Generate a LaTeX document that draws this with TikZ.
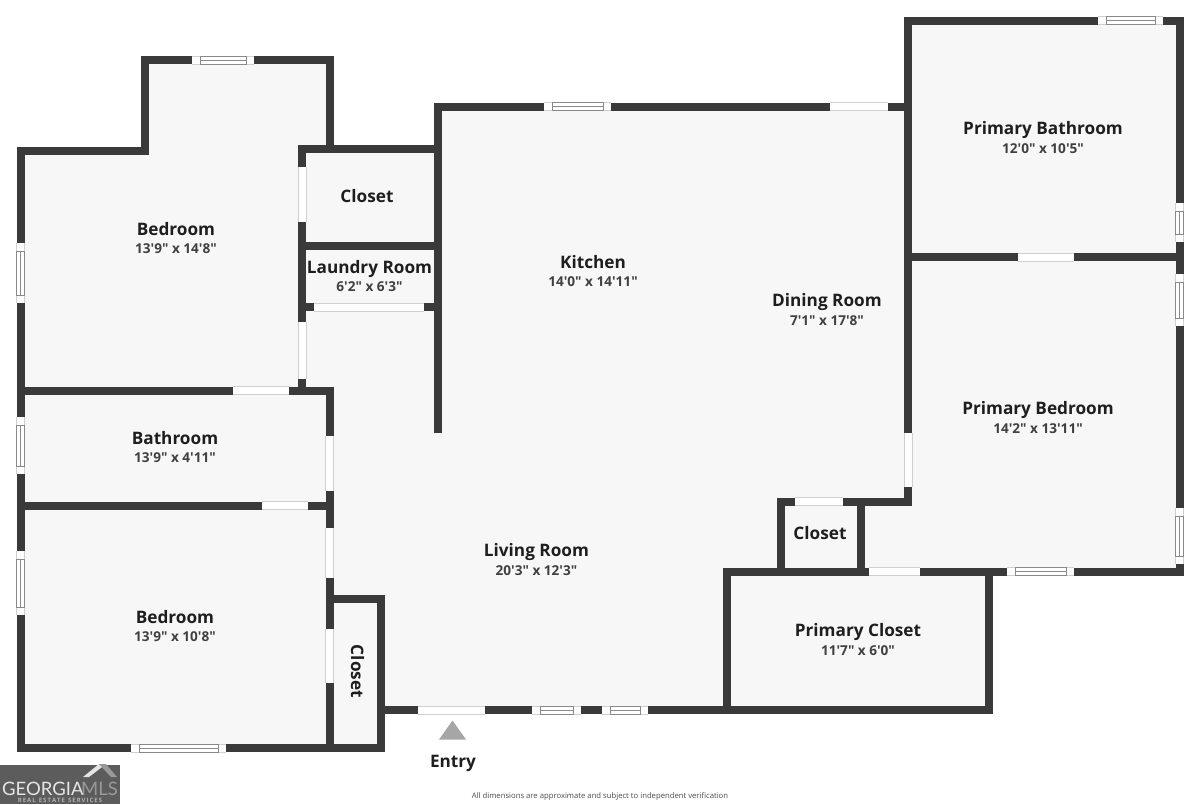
\documentclass[tikz,border=0pt]{standalone}
\usepackage{fontspec}
\newfontfamily\roomfont{Open Sans}
\newfontfamily\logofont{Lato}
\usepackage{xcolor}
\definecolor{wallgray}{HTML}{3A3A3A}
\definecolor{floorgray}{HTML}{F7F7F7}
\definecolor{edgegray}{HTML}{CFCFCF}
\definecolor{sashgray}{HTML}{8A8A8A}
\definecolor{logogray}{HTML}{5C5C5C}
\definecolor{inkgray}{HTML}{1E1E1E}
\newcommand{\hgap}[3]{\fill[white] (#1,#3-4) rectangle (#2,#3+4); \draw[edgegray,line width=.7pt] (#1,#3-4) -- (#2,#3-4) (#1,#3+4) -- (#2,#3+4);}
\newcommand{\vgap}[3]{\fill[white] (#3-4,#1) rectangle (#3+4,#2); \draw[edgegray,line width=.7pt] (#3-4,#1) -- (#3-4,#2) (#3+4,#1) -- (#3+4,#2);}
\newcommand{\hwin}[3]{\hgap{#1}{#2}{#3} \draw[sashgray,line width=.6pt] (#1+8,#3-4) rectangle (#2-8,#3+4) (#1+8,#3) -- (#2-8,#3);}
\newcommand{\vwin}[3]{\vgap{#1}{#2}{#3} \draw[sashgray,line width=.6pt] (#3-4,#1+8) rectangle (#3+4,#2-8) (#3,#1+8) -- (#3,#2-8);}
\tikzset{
  wall/.style={wallgray,line width=8pt,line join=miter,line cap=butt},
  roomname/.style={font=\roomfont\bfseries\fontsize{17.2}{19}\selectfont,text=inkgray,inner sep=0pt,yshift=-1.5pt},
  roomsize/.style={font=\roomfont\bfseries\fontsize{13.6}{15}\selectfont,text=inkgray!85,inner sep=0pt,yshift=-1.5pt}
}
\begin{document}
\begin{tikzpicture}[x=1pt,y=-1pt]
  \useasboundingbox (0,0) rectangle (1200,804);
  % floor
  \fill[floorgray] (20,151) -- (145,151) -- (145,60) -- (330,60) -- (330,149) -- (437,149) -- (437,106) -- (908,106)
    -- (908,20) -- (1180,20) -- (1180,572) -- (989,572) -- (989,710) -- (381,710) -- (381,748) -- (20,748) -- cycle;
  % outer walls
  \draw[wall] (20.7,155) -- (20.7,151.3) -- (145,151.3) -- (145,60.2) -- (330,60.2) -- (330,149) -- (298,149) -- (437.5,149);
  \draw[wall] (437.5,433) -- (437.5,106.7) -- (908,106.7);
  \draw[wall] (908,501.5) -- (908,20.5) -- (1179.7,20.5) -- (1179.7,571.5) -- (727,571.5) -- (727,710) -- (989,710) -- (989,571.5);
  \draw[wall] (20.7,151) -- (20.7,748) -- (381,748) -- (381,599) -- (329.5,599);
  \draw[wall] (381,710) -- (727,710);
  % inner walls
  \draw[wall] (329.5,386.5) -- (329.5,748);
  \draw[wall] (20,390.7) -- (333.5,390.7);
  \draw[wall] (20,505.7) -- (329.5,505.7);
  \draw[wall] (302,145) -- (302,390.5);
  \draw[wall] (302,246) -- (437.5,246);
  \draw[wall] (302,307) -- (437.5,307);
  \draw[wall] (908,257.3) -- (1179.7,257.3);
  \draw[wall] (781,571.5) -- (781,501.5) -- (912,501.5);
  \draw[wall] (861,501.5) -- (861,571.5);
  % openings
  \foreach \a/\b/\c in {314/424/307, 233/289/390.7, 262/308/505.7, 830/888/106.7, 1018/1074/257.3, 795/843/501.5, 869/920/571.5, 418/485/710}
    {\hgap{\a}{\b}{\c}}
  \foreach \a/\b/\c in {167/222/302, 322/379/302, 436/491/329.5, 528/578/329.5, 629/683/329.5, 433/487/908}
    {\vgap{\a}{\b}{\c}}
  % windows
  \foreach \a/\b/\c in {192/254/60.2, 544/611/106.7, 1098/1163/20.5, 131/226/748, 532/581/710, 602/648/710, 1007/1074/571.5}
    {\hwin{\a}{\b}{\c}}
  \foreach \a/\b/\c in {243/303/20.7, 417/474/20.7, 551/615/20.7, 203/242/1179.7, 274/326/1179.7, 508/564/1179.7}
    {\vwin{\a}{\b}{\c}}
  % labels
  \node[roomname] (bedtop) at (176,228) {Bedroom};
  \node[roomsize] (bedtopsize) at (176,247) {13'9" x 14'8"};
  \node[roomname] (closettop) at (367,195) {Closet};
  \node[roomname] (laundry) at (369.5,267.5) {Laundry Room};
  \node[roomsize] (laundrysize) at (369.5,285) {6'2" x 6'3"};
  \node[roomname] (kitchen) at (593,261) {Kitchen};
  \node[roomsize] (kitchensize) at (593,280) {14'0" x 14'11"};
  \node[roomname] (dining) at (827,300.5) {Dining Room};
  \node[roomsize] (diningsize) at (827,319) {7'1" x 17'8"};
  \node[roomname] (bathprim) at (1043,128.5) {Primary Bathroom};
  \node[roomsize] (bathprimsize) at (1043,147) {12'0" x 10'5"};
  \node[roomname] (bedprim) at (1038,408.5) {Primary Bedroom};
  \node[roomsize] (bedprimsize) at (1038,427) {14'2" x 13'11"};
  \node[roomname] (bath) at (175,437) {Bathroom};
  \node[roomsize] (bathsize) at (175,456) {13'9" x 4'11"};
  \node[roomname] (bedlow) at (175,616) {Bedroom};
  \node[roomsize] (bedlowsize) at (175,635) {13'9" x 10'8"};
  \node[roomname] (living) at (536.5,550.5) {Living Room};
  \node[roomsize] (livingsize) at (536.5,569) {20'3" x 12'3"};
  \node[roomname] (closetmid) at (820,532) {Closet};
  \node[roomname] (closetprim) at (858,630.5) {Primary Closet};
  \node[roomsize] (closetprimsize) at (858,649) {11'7" x 6'0"};
  \node[roomname,rotate=-90,yshift=1.5pt] (closetlow) at (356,670) {Closet};
  % entry
  \fill[black!35] (439,739.5) -- (452.5,720.5) -- (466,739.5) -- cycle;
  \node[roomname] (entry) at (453,761.5) {Entry};
  \node[font=\roomfont\fontsize{7.7}{10}\selectfont,text=black!70,inner sep=0pt] (note) at (600,796) {All dimensions are approximate and subject to independent verification};
  % logo
  \fill[logogray] (0,765) rectangle (120,804);
  \fill[white!90!black] (83,777) -- (99,764) -- (106,764) -- (89,777) -- cycle;
  \fill[white!60!black] (99,764) -- (106,764) -- (117,777) -- (111,777) -- cycle;
  \node[font=\logofont\fontsize{18.5}{20}\selectfont,text=white!90!black,inner sep=0pt,anchor=base west] (georgia) at (2,795) {GEORGIA};
  \node[font=\logofont\fontsize{18.5}{20}\selectfont,text=white!60!black,inner sep=0pt,anchor=base west] (mls) at (81,795) {MLS};
  \node[font=\roomfont\bfseries\fontsize{6}{7}\selectfont,text=white!70!black,inner sep=0pt] (realestate) at (60,800.5) {R\,E\,A\,L\ \ E\,S\,T\,A\,T\,E\ \ S\,E\,R\,V\,I\,C\,E\,S};
\end{tikzpicture}
\end{document}
